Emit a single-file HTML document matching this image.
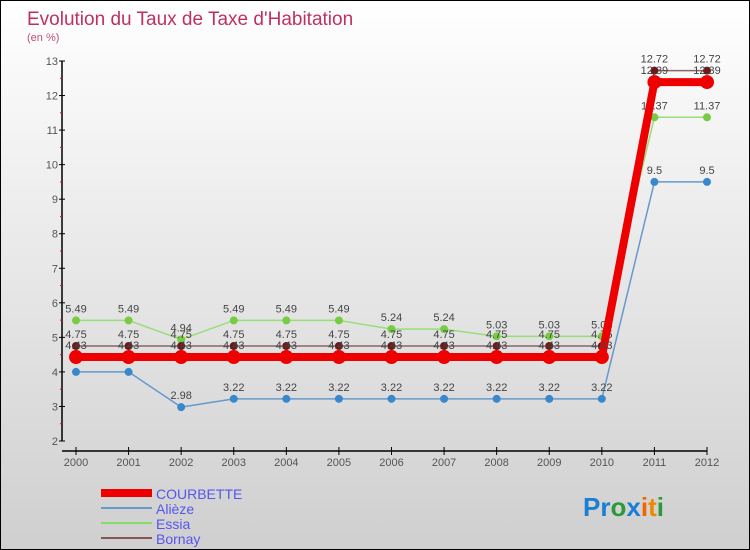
<!DOCTYPE html>
<html><head><meta charset="utf-8"><style>
html,body{margin:0;padding:0}
body{width:750px;height:550px;overflow:hidden;font-family:"Liberation Sans",sans-serif}
#wrap{position:relative;width:748px;height:548px;border:1px solid #000;background:linear-gradient(#ffffff,#cfcfcf)}
</style></head><body>
<div id="wrap">
<svg id="chart" width="748" height="548" style="position:absolute;left:0;top:0">
<text x="26" y="24" font-size="19" fill="#c0305f">Evolution du Taux de Taxe d'Habitation</text>
<text x="26" y="40" font-size="11" fill="#c0507a">(en %)</text>
<g id="axes"></g><g id="series"></g>
<g>
<rect x="100" y="488" width="51" height="8" fill="#e00"/>
<text x="155" y="498" font-size="14" fill="#5555ee">COURBETTE</text>
<line x1="100" y1="507" x2="151" y2="507" stroke="#6699cc" stroke-width="2"/>
<text x="155" y="513" font-size="14" fill="#5555ee">Alièze</text>
<line x1="100" y1="522" x2="151" y2="522" stroke="#88dd66" stroke-width="2"/>
<text x="155" y="528" font-size="14" fill="#5555ee">Essia</text>
<line x1="100" y1="537" x2="151" y2="537" stroke="#885555" stroke-width="2"/>
<text x="155" y="543" font-size="14" fill="#5555ee">Bornay</text>
</g>
<text x="582" y="515" font-size="26" font-weight="bold"><tspan fill="#1a7fd4">Pr</tspan><tspan fill="#2a9a3a">o</tspan><tspan fill="#1a7fd4">x</tspan><tspan fill="#ee6600">i</tspan><tspan fill="#ee8800">t</tspan><tspan fill="#2a9a3a">i</tspan></text>
</svg>
</div>
<script>
const years=[2000,2001,2002,2003,2004,2005,2006,2007,2008,2009,2010,2011,2012];
const courbette=[4.43,4.43,4.43,4.43,4.43,4.43,4.43,4.43,4.43,4.43,4.43,12.39,12.39];
const alieze=[4,4,2.98,3.22,3.22,3.22,3.22,3.22,3.22,3.22,3.22,9.5,9.5];
const essia=[5.49,5.49,4.94,5.49,5.49,5.49,5.24,5.24,5.03,5.03,5.03,11.37,11.37];
const bornay=[4.75,4.75,4.75,4.75,4.75,4.75,4.75,4.75,4.75,4.75,4.75,12.72,12.72];
const yTicks=[2,3,4,5,6,7,8,9,10,11,12,13];
const NS="http://www.w3.org/2000/svg";
function X(i){return 75+(706-75)*i/(years.length-1);}
function Y(v){return 440-(v-2)*(380/11);}
function mk(tag,attrs,parent){const e=document.createElementNS(NS,tag);for(const k in attrs)e.setAttribute(k,attrs[k]);parent.appendChild(e);return e;}
const ax=document.getElementById('axes');
let yl=mk('line',{x1:61,y1:Y(13),x2:61,y2:Y(2),stroke:'#000','stroke-width':1.5},ax);


yTicks.forEach(v=>{
 mk('line',{x1:58,y1:Y(v),x2:64,y2:Y(v),stroke:'#000'},ax);
 if(v<13)mk('line',{x1:59,y1:Y(v+0.5),x2:61,y2:Y(v+0.5),stroke:'#f00'},ax);
 const t=mk('text',{x:57,y:Y(v)+4,'font-size':11,fill:'#555','text-anchor':'end'},ax);
 t.textContent=v;
 
 
});
let xl=mk('line',{x1:61,y1:450,x2:706,y2:450,stroke:'#000','stroke-width':1.5},ax);


years.forEach((y,i)=>{
 mk('line',{x1:X(i),y1:446,x2:X(i),y2:454,stroke:'#000'},ax);
 const t=mk('text',{x:X(i),y:465,'font-size':11,fill:'#555','text-anchor':'middle'},ax);
 t.textContent=y;
 
 
});
const sg=document.getElementById('series');
function draw(name,data,color,w,r,dot,label){
 const g=mk('g',{},sg);
 
 
 const pts=data.map((v,i)=>X(i)+','+Y(v)).join(' ');
 mk('polyline',{points:pts,fill:'none',stroke:color,'stroke-width':w,'stroke-linejoin':'round'},g);
 data.forEach((v,i)=>{
  const c=mk('circle',{cx:X(i),cy:Y(v),r:r,fill:dot},g);
  
  
  if(label){const t=mk('text',{x:X(i),y:Y(v)-8,'font-size':11,fill:'#444','text-anchor':'middle'},g);t.textContent=v;}
 });
}
draw('alieze',alieze,'#6699cc',1.5,4,'#3a88cc',true);
draw('essia',essia,'#99dd77',1.5,4,'#77cc44',true);
draw('bornay',bornay,'#886666',1.5,4,'#6a1a1a',true);
draw('courbette',courbette,'#ee0000',8,7,'#ee0000',true);
</script>
</body></html>
